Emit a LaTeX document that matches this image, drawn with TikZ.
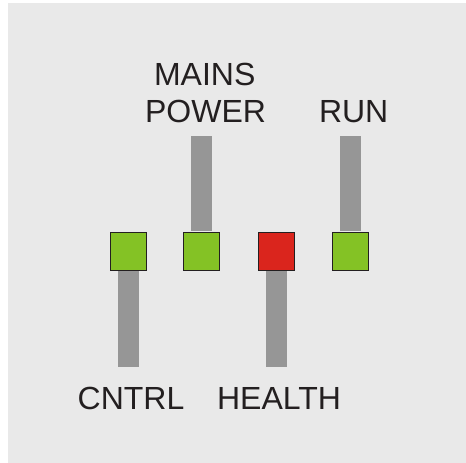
\documentclass[tikz,border=0pt]{standalone}
\usepackage{fontspec}
\setmainfont{Liberation Sans}
\definecolor{bg}{HTML}{E9E9E9}
\definecolor{ledgreen}{HTML}{84C225}
\definecolor{ledred}{HTML}{DA251D}
\definecolor{bargray}{HTML}{969696}
\definecolor{ink}{HTML}{231F20}
\begin{document}
\begin{tikzpicture}[x=1pt,y=-1pt,
  led/.style={draw=ink,line width=1pt,minimum width=36pt,minimum height=38.5pt,inner sep=0pt,outer sep=0pt},
  bar/.style={draw=bargray,line width=21pt},
  lbl/.style={anchor=base,inner sep=0pt,text=ink,font=\fontsize{32}{36}\selectfont}]
\useasboundingbox (0,0) rectangle (466,463);
\fill[bg] (8,3) rectangle (466,463);
% LEDs
\node[led,fill=ledgreen] (cntrl) at (128.7,251.3) {};
\node[led,fill=ledgreen] (mains) at (201.2,251.3) {};
\node[led,fill=ledred] (health) at (276.9,251.3) {};
\node[led,fill=ledgreen] (run) at (350,251.3) {};
% coordinates for bar ends
\coordinate (e1) at (128.7,366.7);
\coordinate (e2) at (201.2,136);
\coordinate (e3) at (276.9,366.7);
\coordinate (e4) at (350,136);
% bars
\draw[bar] ([yshift=-0.5pt]cntrl.south) -- (e1);
\draw[bar] ([yshift=1.2pt]mains.north) -- (e2);
\draw[bar] ([yshift=-0.5pt]health.south) -- (e3);
\draw[bar] ([yshift=1.2pt]run.north) -- (e4);
% labels
\node[lbl] (tmains) at (204.7,85) {MAINS};
\node[lbl] (tpower) at (205.5,122.7) {POWER};
\node[lbl] (trun) at (353.7,122.7) {RUN};
\node[lbl] (tcntrl) at (131,409.3) {CNTRL};
\node[lbl] (thealth) at (279,409.3) {HEALTH};
\end{tikzpicture}
\end{document}
